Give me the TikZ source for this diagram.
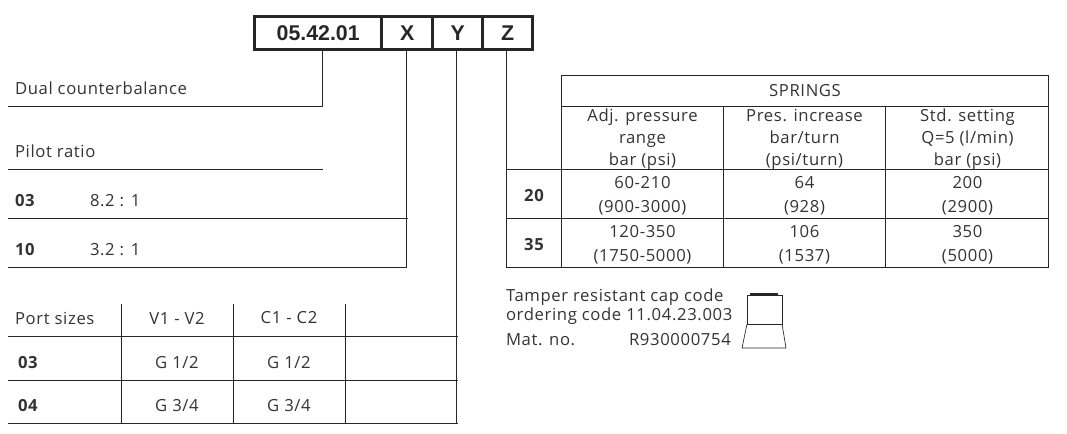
\documentclass[tikz,border=0pt]{standalone}
\usepackage{fontspec}
\setmainfont{Open Sans}[LetterSpace=3.8]
\newfontfamily\codefont{Liberation Sans}
\usetikzlibrary{matrix}
\tikzset{
  rule/.style={line width=0.75pt,black!85},
  txt/.style={inner sep=0pt,outer sep=0pt,text=black!80,font=\fontsize{12.5}{16.5}\selectfont},
  lefttxt/.style={txt,anchor=west},
  boldtxt/.style={lefttxt,font=\fontsize{12.5}{16.5}\selectfont\bfseries},
  codecell/.style={draw=black!85,line width=2.25pt,inner sep=0pt,outer sep=0pt,minimum height=24.75pt,
    text=black!85,font=\fontsize{16}{18}\selectfont\codefont\bfseries},
  cell/.style={txt,align=center},
}
\begin{document}
\begin{tikzpicture}[x=0.75pt,y=-0.75pt]
\useasboundingbox (0,0) rectangle (1067,433);
\node [matrix,ampersand replacement=\&,anchor=north west,inner sep=0pt,outer sep=0pt,column sep=-2.25pt,
    nodes={codecell}] (code) at (253.2,15.2)
    {
\node[minimum width=95.25pt] (codebox) {05.42.01}; \& \node[minimum width=38.25pt] (xbox) {X}; \& \node[minimum width=37.5pt] (ybox) {Y}; \& \node[minimum width=37.5pt] (zbox) {Z}; \\
};
\coordinate (dualend) at (8,106);
\coordinate (xend) at (406.5,267);
\coordinate (yend) at (456.5,424);
\coordinate (zend) at (506,267);
\draw[rule] ([xshift=3pt]codebox.south) |- (dualend);
\draw[rule] (xbox.south -| xend) -- (xend);
\draw[rule] (ybox.south -| yend) -- (yend);
\draw[rule] (zbox.south -| zend) -- (zend);
% left side
\node[lefttxt] (dual) at (15,88) {Dual counterbalance};
\node[lefttxt] (pilot) at (15,151) {Pilot ratio};
\node[boldtxt] (p03) at (15,200.5) {03};
\node[lefttxt] (r03) at (90,200.5) {8.2 : 1};
\node[boldtxt] (p10) at (15,249.5) {10};
\node[lefttxt] (r10) at (90,249.5) {3.2 : 1};
\draw[rule] (8,169) -- (323,169);
\draw[rule] (8,218) -- (408,218);
\draw[rule] (8,267) -- (xend);
% port sizes
\node[lefttxt] (port) at (15,318) {Port sizes};
\node[cell] (v12) at (177,318) {V1 - V2};
\node[cell] (c12) at (289,318) {C1 - C2};
\node[boldtxt] (s03) at (18,362.7) {03};
\node[cell] (v03) at (177,362.7) {G 1/2};
\node[cell] (c03) at (289,362.7) {G 1/2};
\node[boldtxt] (s04) at (18,405.7) {04};
\node[cell] (v04) at (177,405.7) {G 3/4};
\node[cell] (c04) at (289,405.7) {G 3/4};
\foreach \y in {336,380,423}
  \draw[rule] (8,\y) -- (458,\y);
\foreach \x in {121,233,345}
  \draw[rule] (\x,304) -- (\x,424);
% springs
\node[cell] (springs) at (805,91) {SPRINGS};
\node [matrix,ampersand replacement=\&,anchor=north west,inner sep=0pt,outer sep=0pt,nodes={cell},
    column 1/.style={nodes={minimum width=41.25pt}},
    column 2/.style={nodes={minimum width=121.5pt}},
    column 3/.style={nodes={minimum width=121.5pt}},
    column 4/.style={nodes={minimum width=123pt}},
    row 1/.style={nodes={minimum height=47.25pt}},
    row 2/.style={nodes={minimum height=36.75pt,font=\fontsize{12.5}{18}\selectfont}},
    row 3/.style={nodes={minimum height=36.75pt,font=\fontsize{12.5}{18}\selectfont}}]
    (table) at (506.5,108)
    {
\node (t00) {}; \& \node (adj) {Adj. pressure\\range\\bar (psi)}; \& \node (pres) {Pres. increase\\bar/turn\\(psi/turn)}; \& \node (std) {Std. setting\\Q=5 (l/min)\\bar (psi)}; \\
\node[font=\fontsize{12.5}{18}\selectfont\bfseries] (t20) {20}; \& \node (a20) {60-210\\(900-3000)}; \& \node (b20) {64\\(928)}; \& \node (c20) {200\\(2900)}; \\
\node[font=\fontsize{12.5}{18}\selectfont\bfseries] (t35) {35}; \& \node (a35) {120-350\\(1750-5000)}; \& \node (b35) {106\\(1537)}; \& \node (c35) {350\\(5000)}; \\
};
\draw[rule] (561,75) -- (1048.5,75);
\draw[rule] (561,106) -- (1048.5,106);
\foreach \y in {169,218,267}
  \draw[rule] (506,\y) -- (1048.5,\y);
\draw[rule] (561,75) -- (561,267);
\draw[rule] (723,106) -- (723,267);
\draw[rule] (885,106) -- (885,267);
\draw[rule] (1048.5,75) -- (1048.5,267);
% cap
\node[lefttxt] (tamper) at (506,297.5) {Tamper resistant cap code};
\node[lefttxt] (order) at (506,316.5) {ordering code 11.04.23.003};
\node[lefttxt] (mat) at (506,339.5) {Mat. no.};
\node[lefttxt] (matno) at (629,339.5) {R930000754};
\draw[rule,line width=0.5pt] (747,295) rectangle (782,324);
\draw[rule,line width=0.5pt] (747,324) -- (742,348) -- (786,348) -- (782,324);
\draw[rule,line width=1.1pt] (750,294) -- (778,294);
\end{tikzpicture}
\end{document}
